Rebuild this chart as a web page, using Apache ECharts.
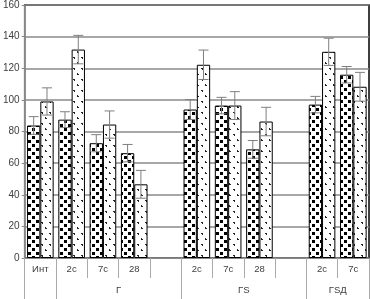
<!DOCTYPE html>
<html><head><meta charset="utf-8">
<script src="https://cdn.jsdelivr.net/npm/echarts@6/dist/echarts.min.js"></script>
<style>html,body{margin:0;padding:0;background:#fff}#c{width:370px;height:299px}</style>
</head><body><div id="c"></div>
<script>
const categories = ['Инт','2с','7с','28','','2с','7с','28','','2с','7с'];
const darkValues  = [83.8, 87.5, 72.6, 66.3, null, 93.9, 96.4, 68.7, null, 97.0, 115.9];
const darkErrors  = [5.6, 5.0, 5.4, 5.5, null, 6.3, 5.2, 5.6, null, 5.2, 5.2];
const lightValues = [99.0, 131.8, 84.4, 46.6, null, 122.2, 96.4, 86.3, null, 130.4, 108.3];
const lightErrors = [8.6, 9.0, 8.6, 8.8, null, 9.3, 8.8, 9.0, null, 8.6, 9.1];
const groupLabels = ['Г','ГS','ГSД'];
const groupCenters = [3, 7, 10];
const groupBounds = [0, 1, 5, 9, 11];
const yTicks = [0,20,40,60,80,100,120,140,160];

function makePattern(kind){
  const c = document.createElement('canvas');
  if (kind === 'dark') {
    c.width = 8; c.height = 8;
    const g = c.getContext('2d');
    g.fillStyle = '#fff'; g.fillRect(0,0,8,8);
    g.fillStyle = '#000';
    g.fillRect(0,0,3,3); g.fillRect(4,4,3,3);
  } else {
    c.width = 8; c.height = 11;
    const g = c.getContext('2d');
    g.fillStyle = '#fff'; g.fillRect(0,0,8,11);
    g.fillStyle = '#222';
    g.fillRect(1,2,2,1); g.fillRect(2,3,1,1);
    g.fillRect(5,8,2,1); g.fillRect(5,7,1,1);
  }
  return {image: c, repeat: 'repeat'};
}
const catGap = 0.15;
function errSeries(values, errors, sign){
  const data = values.map((v,i)=> v==null ? null : [i, v, errors[i]]).filter(d=>d);
  return {
    type:'custom', xAxisIndex:0, yAxisIndex:0, z:5, clip:false,
    data: data,
    renderItem: function(params, api){
      const i = api.value(0), v = api.value(1), e = api.value(2);
      const bw = api.size([1,0])[0];
      const off = sign * bw*(1-catGap)/4;
      const x = api.coord([i, v])[0] + off;
      const yt = api.coord([i, v+e])[1];
      const yb = api.coord([i, v-e])[1];
      const cap = 5;
      const st = {stroke:'#7f7f7f', lineWidth:1};
      return {type:'group', children:[
        {type:'line', shape:{x1:x,y1:yt,x2:x,y2:yb}, style:st},
        {type:'line', shape:{x1:x-cap,y1:yt,x2:x+cap,y2:yt}, style:st},
        {type:'line', shape:{x1:x-cap,y1:yb,x2:x+cap,y2:yb}, style:st}
      ]};
    }
  };
}
const chart = echarts.init(document.getElementById('c'), null, {renderer:'canvas'});
const font = 'Liberation Sans';
chart.setOption({
  animation:false,
  grid:{left:24, right:1, top:4, bottom:41, show:true, borderColor:'#000', borderWidth:1.5, backgroundColor:'#fff'},
  xAxis:[
    {type:'category', data:categories, position:'bottom',
     axisLine:{show:true, lineStyle:{color:'#888', width:1}},
     axisTick:{show:true, interval:0, length:20, lineStyle:{color:'#aaa'}},
     axisLabel:{interval:0, margin:6, fontSize:9.5, color:'#404040', fontFamily:font},
     splitLine:{show:false}},
    {type:'value', min:0, max:11, position:'bottom', offset:20,
     axisLine:{show:false},
     axisTick:{show:true, customValues:groupBounds, length:21, lineStyle:{color:'#aaa'}},
     axisLabel:{customValues:groupCenters, margin:7, fontSize:9.5, color:'#404040', fontFamily:font,
       formatter: v => { const k = groupCenters.indexOf(v); return k>=0 ? groupLabels[k] : ''; }},
     splitLine:{show:false}}
  ],
  yAxis:{type:'value', min:0, max:160, interval:20,
    axisLine:{show:true, lineStyle:{color:'#888'}},
    axisTick:{show:true, length:3, lineStyle:{color:'#888'}},
    axisLabel:{fontSize:10, color:'#404040', margin:5, fontFamily:font},
    splitLine:{show:true, lineStyle:{color:'#8a8a8a', width:1.5}}},
  series:[
    {type:'bar', data:darkValues, barGap:'0%', barCategoryGap:(catGap*100)+'%', z:3,
     itemStyle:{color:makePattern('dark'), borderColor:'#000', borderWidth:1}},
    {type:'bar', data:lightValues, barGap:'0%', barCategoryGap:(catGap*100)+'%', z:3,
     itemStyle:{color:makePattern('light'), borderColor:'#000', borderWidth:1}},
    errSeries(darkValues, darkErrors, -1),
    errSeries(lightValues, lightErrors, 1)
  ]
});
</script></body></html>
